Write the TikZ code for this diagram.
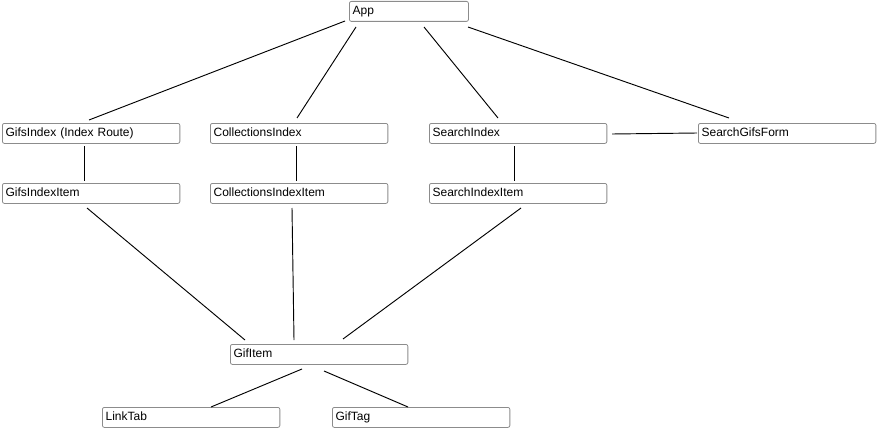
\documentclass[tikz,border=0pt]{standalone}
\usepackage{fontspec}
\setmainfont{Liberation Sans}
\begin{document}
\begin{tikzpicture}[x=0.75pt,y=-0.75pt,
  box/.style={draw=black!45, rounded corners=1.5pt, line width=0.6pt,
    anchor=north west, inner xsep=2.4pt, inner ysep=0pt,
    minimum height=15pt, text height=6.8pt, text depth=1.9pt,
    align=left, text width=128.3pt, font=\fontsize{9}{10}\selectfont},
  smallbox/.style={box, text width=84.5pt},
  link/.style={draw=black, line width=0.7pt}]
\useasboundingbox (0,0) rectangle (877,428);

% components
\node[smallbox] (app) at (349,1) {App};
\node[box] (gifsindex) at (2,123) {GifsIndex (Index Route)};
\node[box] (gifsindexitem) at (2,183) {GifsIndexItem};
\node[box] (collindex) at (210,123) {CollectionsIndex};
\node[box] (collindexitem) at (210,183) {CollectionsIndexItem};
\node[box] (searchindex) at (429,123) {SearchIndex};
\node[box] (searchindexitem) at (429,183) {SearchIndexItem};
\node[box] (searchform) at (698,123) {SearchGifsForm};
\node[box] (gifitem) at (230,344) {GifItem};
\node[box] (linktab) at (102,407) {LinkTab};
\node[box] (giftag) at (332,407) {GifTag};

% connector end points
\coordinate (appA) at (345,21);
\coordinate (appB) at (356,27);
\coordinate (appC) at (424,27);
\coordinate (appD) at (468,27);
\coordinate (giA) at (89,120);
\coordinate (ciA) at (297,118);
\coordinate (siA) at (498,118);
\coordinate (sfA) at (729,118);
\coordinate (giB) at (84,146);
\coordinate (giiA) at (84,181);
\coordinate (ciB) at (296,146);
\coordinate (ciiA) at (296,181);
\coordinate (siB) at (514,146);
\coordinate (siiA) at (514,181);
\coordinate (siC) at (612,134);
\coordinate (sfB) at (697,133);
\coordinate (giiB) at (87,208);
\coordinate (ciiB) at (292,208);
\coordinate (siiB) at (521,208);
\coordinate (gfA) at (245,340);
\coordinate (gfB) at (294,340);
\coordinate (gfC) at (343,339);
\coordinate (gfD) at (302,369);
\coordinate (gfE) at (324,371);
\coordinate (ltA) at (211,407);
\coordinate (gtA) at (408,407);

% connectors
\draw[link] (appA) -- (giA);
\draw[link] (appB) -- (ciA);
\draw[link] (appC) -- (siA);
\draw[link] (appD) -- (sfA);
\draw[link] (giB) -- (giiA);
\draw[link] (ciB) -- (ciiA);
\draw[link] (siB) -- (siiA);
\draw[link] (siC) -- (sfB);
\draw[link] (giiB) -- (gfA);
\draw[link] (ciiB) -- (gfB);
\draw[link] (siiB) -- (gfC);
\draw[link] (gfD) -- (ltA);
\draw[link] (gfE) -- (gtA);
\end{tikzpicture}
\end{document}
